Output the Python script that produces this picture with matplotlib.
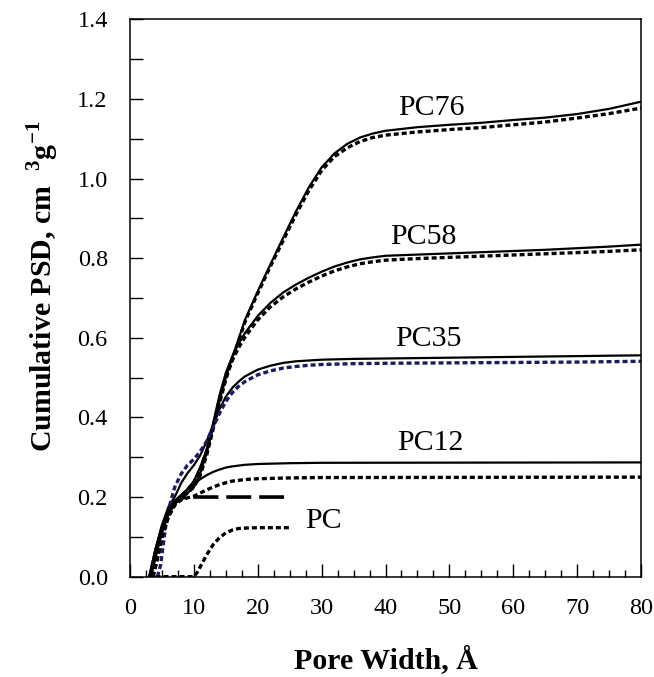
import numpy as np
import matplotlib
matplotlib.use('Agg')
import matplotlib.pyplot as plt
from matplotlib.ticker import MultipleLocator

plt.rcParams['font.family'] = ['Liberation Serif', 'DejaVu Serif']
plt.rcParams['mathtext.fontset'] = 'custom'
plt.rcParams['mathtext.rm'] = 'Liberation Serif:bold'
plt.rcParams['mathtext.bf'] = 'Liberation Serif:bold'

# pore width (A) / cumulative PSD (cm3/g)
pc76_x = [3.2, 4, 5, 6, 7, 8, 9, 10, 11, 12, 13, 14, 15, 16, 17, 18, 20, 22, 24, 26, 28, 30,
          32, 34, 36, 38, 40, 45, 50, 55, 60, 65, 70, 75, 80]
pc76_y = [0, 0.05, 0.11, 0.155, 0.185, 0.2, 0.21, 0.225, 0.26, 0.31, 0.375, 0.44, 0.5, 0.55,
          0.597, 0.645, 0.717, 0.785, 0.852, 0.918, 0.978, 1.028, 1.063, 1.087, 1.103, 1.113,
          1.12, 1.129, 1.135, 1.14, 1.147, 1.153, 1.162, 1.175, 1.193]
pc76d_x = [3.6, 4.5, 5, 6, 7, 8, 9, 10, 11, 12, 13, 14, 15, 16, 17, 18, 20, 22, 24, 26, 28, 30,
           32, 34, 36, 38, 40, 45, 50, 55, 60, 65, 70, 75, 80]
pc76d_y = [0, 0.06, 0.1, 0.15, 0.18, 0.198, 0.21, 0.225, 0.255, 0.305, 0.37, 0.435, 0.495,
           0.545, 0.592, 0.64, 0.712, 0.78, 0.845, 0.91, 0.97, 1.02, 1.055, 1.077, 1.093,
           1.103, 1.109, 1.117, 1.123, 1.128, 1.135, 1.142, 1.152, 1.163, 1.177]

pc58_x = [3.2, 4, 5, 6, 7, 8, 9, 10, 11, 12, 13, 14, 15, 16, 17, 18, 20, 22, 24, 26, 28, 30,
          32, 34, 36, 38, 40, 45, 50, 55, 60, 65, 70, 75, 80]
pc58_y = [0, 0.05, 0.115, 0.16, 0.19, 0.205, 0.22, 0.24, 0.275, 0.32, 0.385, 0.455, 0.512,
          0.553, 0.585, 0.612, 0.655, 0.688, 0.714, 0.734, 0.751, 0.766, 0.779, 0.789, 0.797,
          0.802, 0.806, 0.809, 0.812, 0.815, 0.818, 0.821, 0.825, 0.829, 0.834]
pc58d_x = pc76d_x
pc58d_y = [0, 0.06, 0.1, 0.155, 0.185, 0.203, 0.218, 0.238, 0.27, 0.315, 0.375, 0.445, 0.503,
           0.543, 0.575, 0.602, 0.645, 0.678, 0.703, 0.723, 0.74, 0.755, 0.768, 0.778, 0.786,
           0.791, 0.795, 0.799, 0.802, 0.805, 0.808, 0.811, 0.814, 0.817, 0.821]

pc35_x = [3.0, 4, 5, 6, 7, 8, 9, 10, 11, 12, 13, 14, 15, 16, 17, 18, 20, 22, 24, 26, 28, 30,
          35, 40, 50, 60, 70, 80]
pc35_y = [0, 0.07, 0.13, 0.175, 0.2, 0.235, 0.26, 0.28, 0.305, 0.34, 0.38, 0.42, 0.452,
          0.474, 0.49, 0.503, 0.52, 0.53, 0.537, 0.541, 0.543, 0.545, 0.547, 0.548, 0.55,
          0.552, 0.554, 0.556]
pc35d_x = [4.3, 4.8, 5.2, 5.7, 6.3, 7, 8, 9, 10, 11, 12, 13, 14, 15, 16, 17, 18, 20, 22, 24,
           26, 28, 30, 35, 40, 50, 60, 70, 80]
pc35d_y = [0, 0.03, 0.08, 0.14, 0.185, 0.225, 0.258, 0.28, 0.295, 0.315, 0.34, 0.375, 0.41,
           0.44, 0.462, 0.478, 0.49, 0.507, 0.517, 0.524, 0.528, 0.531, 0.533, 0.535, 0.536,
           0.537, 0.538, 0.539, 0.541]

pc12_x = [3.0, 4, 5, 6, 7, 8, 9, 10, 11, 12, 13, 14, 15, 16, 18, 20, 25, 30, 80]
pc12_y = [0, 0.07, 0.125, 0.165, 0.19, 0.205, 0.218, 0.232, 0.245, 0.255, 0.263, 0.269,
          0.274, 0.277, 0.281, 0.283, 0.285, 0.286, 0.287]
pc12d_x = [3.5, 4.5, 5, 6, 7, 8, 9, 10, 11, 12, 13, 14, 15, 16, 18, 20, 25, 30, 80]
pc12d_y = [0, 0.07, 0.1, 0.15, 0.18, 0.193, 0.198, 0.202, 0.21, 0.218, 0.225, 0.231, 0.236,
           0.24, 0.244, 0.246, 0.248, 0.249, 0.25]

pc_x = [3.2, 4, 5, 6, 7, 8, 9, 25]
pc_y = [0, 0.06, 0.12, 0.16, 0.185, 0.197, 0.2, 0.2]
pcd_x = [4.0, 7, 10, 10.5, 11, 12, 13, 14, 15, 16, 17, 18, 20, 25]
pcd_y = [0, 0, 0, 0.01, 0.025, 0.055, 0.08, 0.098, 0.11, 0.117, 0.121, 0.122, 0.123, 0.123]

labels = ['PC76', 'PC58', 'PC35', 'PC12', 'PC']
label_x = [47.2, 45.9, 46.7, 47.0, 30.3]
label_y = [1.16, 0.835, 0.58, 0.3175, 0.1225]

fig = plt.figure(figsize=(6.54, 6.77), dpi=100)
ax = fig.add_axes([0.1988, 0.1482, 0.7813, 0.8233])

solid = dict(color='black', lw=1.6, solid_capstyle='butt')
dots = dict(color='black', lw=2.4, linestyle=(0, (1.5, 0.9)))

ax.plot(pc76_x, pc76_y, **solid)
ax.plot(pc76d_x, pc76d_y, **dots)
ax.plot(pc58_x, pc58_y, **solid)
ax.plot(pc58d_x, pc58d_y, **dots)
ax.plot(pc35_x, pc35_y, **solid)
ax.plot(pc35d_x, pc35d_y, color='#1c1c5e', lw=2.4, linestyle=(0, (1.5, 0.9)))
ax.plot(pc12_x, pc12_y, **solid)
ax.plot(pc12d_x, pc12d_y, **dots)
ax.plot(pc_x, pc_y, color='black', lw=2.6, linestyle=(0, (6.9, 2.2)))
ax.plot(pcd_x, pcd_y, **dots)

for t, x, y in zip(labels, label_x, label_y):
    ax.text(x, y, t, fontsize=21.5, ha='center', va='baseline')

ax.set_xlim(0, 80)
ax.set_ylim(0, 1.4)
ax.xaxis.set_major_locator(MultipleLocator(10))
ax.xaxis.set_minor_locator(MultipleLocator(2.5))
ax.yaxis.set_major_locator(MultipleLocator(0.2))
ax.yaxis.set_minor_locator(MultipleLocator(0.1))
ax.yaxis.set_major_formatter(matplotlib.ticker.FormatStrFormatter('%.1f'))

ax.tick_params(axis='both', which='both', direction='in', top=False, right=False,
               labelsize=17.5, width=1.0)
ax.tick_params(axis='y', which='both', length=9.5, pad=16)
ax.tick_params(axis='x', which='major', length=9.5, pad=15)
ax.tick_params(axis='x', which='minor', length=5)
for s in ax.spines.values():
    s.set_linewidth(1.1)

ax.set_xlabel('Pore Width, Å', fontsize=21.5, fontweight='bold', labelpad=20)
ax.set_ylabel(r'Cumulative PSD, cm  $^{\mathbf{3}}$g$^{\mathbf{-1}}$', fontsize=21.5,
              fontweight='bold')
ax.yaxis.set_label_coords(-0.135, 0.52)

fig.savefig('out.png', dpi=100)
